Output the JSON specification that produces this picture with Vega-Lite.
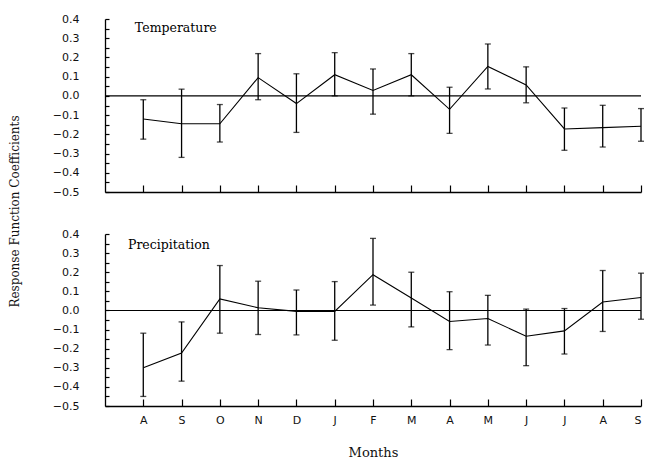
{
  "$schema": "https://vega.github.io/schema/vega-lite/v6.json",
  "background": "white",
  "padding": {"left": 8, "top": 13, "right": 4, "bottom": 5},
  "bounds": "flush",
  "spacing": 42,
  "config": {
    "view": {"stroke": null},
    "font": "DejaVu Serif",
    "axis": {
      "domainColor": "#000",
      "domainWidth": 1.3,
      "tickColor": "#000",
      "tickWidth": 1.2,
      "grid": false,
      "labelFont": "DejaVu Sans",
      "labelFontSize": 11,
      "labelColor": "#111",
      "titleFont": "DejaVu Serif",
      "titleFontWeight": "normal",
      "titleColor": "#111"
    }
  },
  "data": {
    "values": [
      {"panel": "Temperature", "i": 1, "month": "A", "coef": -0.12, "lo": -0.225, "hi": -0.02},
      {"panel": "Temperature", "i": 2, "month": "S", "coef": -0.145, "lo": -0.32, "hi": 0.035},
      {"panel": "Temperature", "i": 3, "month": "O", "coef": -0.145, "lo": -0.24, "hi": -0.045},
      {"panel": "Temperature", "i": 4, "month": "N", "coef": 0.095, "lo": -0.02, "hi": 0.22},
      {"panel": "Temperature", "i": 5, "month": "D", "coef": -0.04, "lo": -0.19, "hi": 0.115},
      {"panel": "Temperature", "i": 6, "month": "J", "coef": 0.11, "lo": 0.0, "hi": 0.225},
      {"panel": "Temperature", "i": 7, "month": "F", "coef": 0.028, "lo": -0.095, "hi": 0.14},
      {"panel": "Temperature", "i": 8, "month": "M", "coef": 0.11, "lo": 0.0, "hi": 0.22},
      {"panel": "Temperature", "i": 9, "month": "A", "coef": -0.07, "lo": -0.195, "hi": 0.045},
      {"panel": "Temperature", "i": 10, "month": "M", "coef": 0.153, "lo": 0.036, "hi": 0.27},
      {"panel": "Temperature", "i": 11, "month": "J", "coef": 0.057, "lo": -0.036, "hi": 0.151},
      {"panel": "Temperature", "i": 12, "month": "J", "coef": -0.172, "lo": -0.283, "hi": -0.063},
      {"panel": "Temperature", "i": 13, "month": "A", "coef": -0.165, "lo": -0.266, "hi": -0.049},
      {"panel": "Temperature", "i": 14, "month": "S", "coef": -0.158, "lo": -0.236, "hi": -0.066},
      {"panel": "Precipitation", "i": 1, "month": "A", "coef": -0.3, "lo": -0.45, "hi": -0.119},
      {"panel": "Precipitation", "i": 2, "month": "S", "coef": -0.223, "lo": -0.37, "hi": -0.06},
      {"panel": "Precipitation", "i": 3, "month": "O", "coef": 0.06, "lo": -0.119, "hi": 0.235},
      {"panel": "Precipitation", "i": 4, "month": "N", "coef": 0.014, "lo": -0.126, "hi": 0.153},
      {"panel": "Precipitation", "i": 5, "month": "D", "coef": -0.005, "lo": -0.128, "hi": 0.107},
      {"panel": "Precipitation", "i": 6, "month": "J", "coef": -0.005, "lo": -0.156, "hi": 0.151},
      {"panel": "Precipitation", "i": 7, "month": "F", "coef": 0.187, "lo": 0.028, "hi": 0.377},
      {"panel": "Precipitation", "i": 8, "month": "M", "coef": 0.065, "lo": -0.086, "hi": 0.2},
      {"panel": "Precipitation", "i": 9, "month": "A", "coef": -0.058, "lo": -0.205, "hi": 0.098},
      {"panel": "Precipitation", "i": 10, "month": "M", "coef": -0.042, "lo": -0.181, "hi": 0.079},
      {"panel": "Precipitation", "i": 11, "month": "J", "coef": -0.135, "lo": -0.289, "hi": 0.007},
      {"panel": "Precipitation", "i": 12, "month": "J", "coef": -0.107, "lo": -0.228, "hi": 0.01},
      {"panel": "Precipitation", "i": 13, "month": "A", "coef": 0.044, "lo": -0.11, "hi": 0.209},
      {"panel": "Precipitation", "i": 14, "month": "S", "coef": 0.068, "lo": -0.046, "hi": 0.195}
    ]
  },
  "vconcat": [
    {
      "width": 536,
      "height": 173,
      "transform": [{"filter": "datum.panel === 'Temperature'"}],
      "encoding": {
        "x": {
          "field": "i", "type": "quantitative",
          "scale": {"domain": [0, 14], "nice": false, "zero": false},
          "axis": {"values": [1,2,3,4,5,6,7,8,9,10,11,12,13,14], "labels": false, "title": null, "tickSize": -7}
        },
        "y": {
          "field": "coef", "type": "quantitative",
          "scale": {"domain": [-0.5, 0.4], "nice": false},
          "axis": {
            "values": [-0.5,-0.45,-0.4,-0.35,-0.3,-0.25,-0.2,-0.15,-0.1,-0.05,0,0.05,0.1,0.15,0.2,0.25,0.3,0.35,0.4],
            "labelExpr": "abs(round(datum.value*100)) % 10 == 0 ? format(datum.value, '.1f') : ''",
            "tickSize": -4,
            "labelPadding": 30,
            "title": "Response Function Coefficients",
            "titleFontSize": 12,
            "titleY": 192,
            "titleX": -84
          }
        }
      },
      "layer": [
        {"transform": [{"filter": "datum.i === 1"}],
         "mark": {"type": "rule", "color": "#000", "strokeWidth": 1.1}, "encoding": {"y": {"datum": 0}, "x": {"datum": 0}, "x2": {"datum": 14}}},
        {"mark": {"type": "line", "color": "#000", "strokeWidth": 1.1}, "encoding": {}},
        {"mark": {"type": "errorbar", "ticks": {"size": 6, "color": "#000", "thickness": 1.3}, "rule": {"color": "#000", "strokeWidth": 1.3}},
         "encoding": {"y": {"field": "lo", "type": "quantitative"}, "y2": {"field": "hi"}}},
        {"transform": [{"filter": "datum.i === 1"}],
         "mark": {"type": "text", "align": "left", "baseline": "middle", "fontSize": 12.5, "font": "DejaVu Serif", "color": "#000"},
         "encoding": {"x": {"datum": 0.78}, "y": {"datum": 0.355}, "text": {"field": "panel"}}}
      ]
    },
    {
      "width": 536,
      "height": 172,
      "transform": [{"filter": "datum.panel === 'Precipitation'"}],
      "encoding": {
        "x": {
          "field": "i", "type": "quantitative",
          "scale": {"domain": [0, 14], "nice": false, "zero": false},
          "axis": {
            "values": [1,2,3,4,5,6,7,8,9,10,11,12,13,14],
            "labelExpr": "['','A','S','O','N','D','J','F','M','A','M','J','J','A','S'][datum.value]",
            "tickSize": -7,
            "labelPadding": 15,
            "labelFont": "DejaVu Sans",
            "title": "Months",
            "titleFontSize": 13,
            "titlePadding": 21
          }
        },
        "y": {
          "field": "coef", "type": "quantitative",
          "scale": {"domain": [-0.5, 0.4], "nice": false},
          "axis": {
            "values": [-0.5,-0.45,-0.4,-0.35,-0.3,-0.25,-0.2,-0.15,-0.1,-0.05,0,0.05,0.1,0.15,0.2,0.25,0.3,0.35,0.4],
            "labelExpr": "abs(round(datum.value*100)) % 10 == 0 ? format(datum.value, '.1f') : ''",
            "tickSize": -4,
            "labelPadding": 30,
            "title": null
          }
        }
      },
      "layer": [
        {"transform": [{"filter": "datum.i === 1"}],
         "mark": {"type": "rule", "color": "#000", "strokeWidth": 1.1}, "encoding": {"y": {"datum": 0}, "x": {"datum": 0}, "x2": {"datum": 14}}},
        {"mark": {"type": "line", "color": "#000", "strokeWidth": 1.1}, "encoding": {}},
        {"mark": {"type": "errorbar", "ticks": {"size": 6, "color": "#000", "thickness": 1.3}, "rule": {"color": "#000", "strokeWidth": 1.3}},
         "encoding": {"y": {"field": "lo", "type": "quantitative"}, "y2": {"field": "hi"}}},
        {"transform": [{"filter": "datum.i === 1"}],
         "mark": {"type": "text", "align": "left", "baseline": "middle", "fontSize": 12.5, "font": "DejaVu Serif", "color": "#000"},
         "encoding": {"x": {"datum": 0.6}, "y": {"datum": 0.345}, "text": {"field": "panel"}}}
      ]
    }
  ]
}
